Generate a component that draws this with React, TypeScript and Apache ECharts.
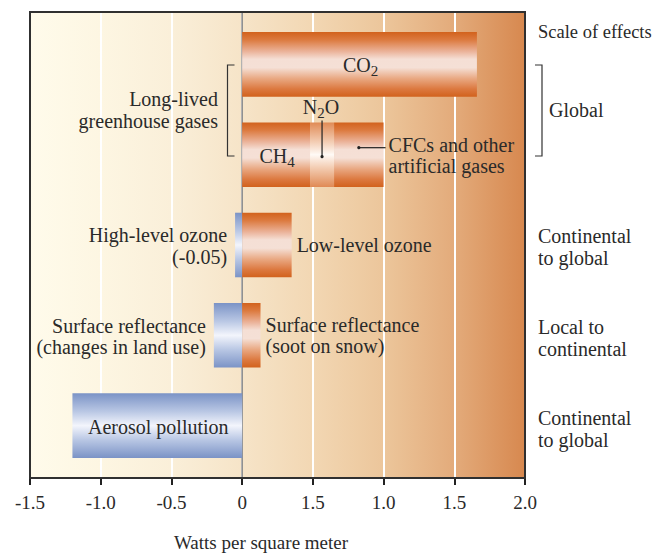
import React, { useEffect, useRef } from "react";
import * as echarts from "echarts";

// ---- data ----
const tickValues = [-1.5, -1.0, -0.5, 0, 0.5, 1.0, 1.5, 2.0];
const tickLabels = ["-1.5", "-1.0", "-0.5", "0", "1.5", "1.0", "1.5", "2.0"];

const barNames = [
  "CO2",
  "CH4",
  "N2O",
  "CFCs and other artificial gases",
  "High-level ozone",
  "Low-level ozone",
  "Surface reflectance (changes in land use)",
  "Surface reflectance (soot on snow)",
  "Aerosol pollution",
];
const barRows = [0, 1, 1, 1, 2, 2, 3, 3, 4];
const barStart = [0, 0, 0.48, 0.65, -0.05, 0, -0.2, 0, -1.2];
const barEnd = [1.66, 0.48, 0.65, 1.0, 0, 0.35, 0, 0.13, 0];
const barKind = ["warm", "warm", "pale", "warm", "cool", "warm", "cool", "warm", "cool"];
const barLabels = [
  "{n|CO}{s|2}",
  "{n|CH}{s|4}",
  "{n|N}{s|2}{n|O}",
  "CFCs and other\nartificial gases",
  "High-level ozone\n(-0.05)",
  "Low-level ozone",
  "Surface reflectance\n(changes in land use)",
  "Surface reflectance\n(soot on snow)",
  "Aerosol pollution",
];

const groupLabel = "Long-lived\ngreenhouse gases";
const scaleTitle = "Scale of effects";
const scaleLabels = ["Global", "Continental\nto global", "Local to\ncontinental", "Continental\nto global"];
const axisTitle = "Watts per square meter";

// ---- layout / style ----
const labelPlace = ["inside", "inside", "above", "pointer", "left", "right", "left", "right", "inside"];
const FONT = "'Liberation Serif', 'DejaVu Serif', serif";
const TEXT = "#2a2a2a";
const FS = 20;
const Y_MIN = -0.58;
const Y_MAX = 4.58;
const G = { left: 30, right: 134, top: 12, bottom: 76 };
const W = 659;
const H = 554;

function grad(stops: [number, string][]) {
  return new echarts.graphic.LinearGradient(
    0, 0, 0, 1,
    stops.map(([offset, color]) => ({ offset, color }))
  );
}

const fills: Record<string, any> = {
  warm: grad([
    [0, "#d2621d"], [0.12, "#dc7a3f"], [0.3, "#ebb39a"], [0.42, "#f5dfd5"],
    [0.55, "#f5e0d6"], [0.72, "#e9a882"], [0.88, "#dc7940"], [1, "#d2621d"],
  ]),
  pale: grad([
    [0, "#e08a55"], [0.3, "#f3cdb3"], [0.5, "#fffaf6"], [0.7, "#f3cdb3"], [1, "#e08a55"],
  ]),
  cool: grad([
    [0, "#7b93c6"], [0.28, "#b9c7e4"], [0.5, "#f3f5fc"], [0.72, "#b9c7e4"], [1, "#7b93c6"],
  ]),
};

const rich = {
  n: { fontSize: FS, fontFamily: FONT, color: TEXT },
  s: { fontSize: 15, fontFamily: FONT, color: TEXT, padding: [12, 0, 0, 0] },
};

function textEl(text: string, x: number, y: number, align: string, extra: any = {}) {
  return {
    type: "text",
    style: {
      text,
      x,
      y,
      align,
      verticalAlign: "middle",
      fontSize: FS,
      fontFamily: FONT,
      fill: TEXT,
      lineHeight: 21.5,
      rich,
      ...extra,
    },
    z2: 10,
  };
}

export default function App() {
  const ref = useRef<HTMLDivElement>(null);

  useEffect(() => {
    if (!ref.current) return;
    const chart = echarts.init(ref.current, null, { renderer: "svg" });

    const data = barNames.map((name, i) => ({
      name,
      value: [barRows[i], barStart[i], barEnd[i]],
    }));

    const renderItem = (params: any, api: any) => {
      const i = params.dataIndex;
      const row = api.value(0);
      const s = api.value(1);
      const e = api.value(2);
      const p0 = api.coord([s, row]);
      const p1 = api.coord([e, row]);
      const band = api.size([0, 1])[1];
      const h = band * 0.715;
      const x = Math.min(p0[0], p1[0]);
      const x2 = Math.max(p0[0], p1[0]);
      const w = x2 - x;
      const cy = p0[1];
      const y = cy - h / 2;
      const children: any[] = [
        {
          type: "rect",
          shape: { x, y, width: w, height: h },
          style: { fill: fills[barKind[i]] },
        },
      ];
      const label = barLabels[i];
      const place = labelPlace[i];
      const cx = (x + x2) / 2;
      if (place === "inside") {
        children.push(textEl(label, cx + 1, cy + 1, "center"));
      } else if (place === "left") {
        children.push(textEl(label, x - 8, cy + 1, "right"));
      } else if (place === "right") {
        children.push(textEl(label, x2 + 5, cy, "left"));
      } else if (place === "above") {
        children.push(textEl(label, cx - 1, y - 15, "center"));
        children.push({
          type: "line",
          shape: { x1: cx, y1: y - 2, x2: cx, y2: cy + 2 },
          style: { stroke: "#222", lineWidth: 1.2 },
          z2: 10,
        });
        children.push({
          type: "circle",
          shape: { cx, cy: cy + 2, r: 1.6 },
          style: { fill: "#222" },
          z2: 10,
        });
      } else if (place === "pointer") {
        children.push({
          type: "line",
          shape: { x1: cx, y1: cy - 7, x2: x2 + 2, y2: cy - 7 },
          style: { stroke: "#222", lineWidth: 1.2 },
          z2: 10,
        });
        children.push({
          type: "circle",
          shape: { cx, cy: cy - 7, r: 1.6 },
          style: { fill: "#222" },
          z2: 10,
        });
        children.push(textEl(label, x2 + 5, cy + 1, "left"));
      }
      return { type: "group", children };
    };

    const bgStops = [
      "#fffbeb", "#fdf6e2", "#faefd9", "#f6e4c8", "#f2d7b3", "#ecc69b", "#e3ab7b", "#d7884f",
    ];

    chart.setOption({
      animation: false,
      backgroundColor: "#ffffff",
      grid: {
        ...G,
        show: true,
        containLabel: false,
        outerBoundsMode: "none",
        borderWidth: 0,
        backgroundColor: new echarts.graphic.LinearGradient(
          0, 0, 1, 0,
          bgStops.map((color, k) => ({ offset: k / (bgStops.length - 1), color }))
        ),
      },
      xAxis: {
        type: "value",
        min: -1.5,
        max: 2.0,
        interval: 0.5,
        axisLine: { show: true, onZero: false, lineStyle: { color: "#222", width: 2 } },
        axisTick: { show: true, length: 7, inside: false, lineStyle: { color: "#222", width: 2 } },
        axisLabel: {
          margin: 15,
          fontSize: 19,
          fontFamily: FONT,
          color: TEXT,
          showMinLabel: true,
          showMaxLabel: true,
          formatter: (v: number) => {
            const k = tickValues.findIndex((t) => Math.abs(t - v) < 1e-6);
            return k >= 0 ? tickLabels[k] : "";
          },
        },
        splitLine: { show: true, lineStyle: { color: "#ffffff", width: 2 } },
      },
      yAxis: {
        type: "value",
        min: Y_MIN,
        max: Y_MAX,
        inverse: true,
        show: false,
        splitLine: { show: false },
        axisLine: { show: false, onZero: false },
      },
      series: [
        {
          type: "line",
          data: [[0, Y_MIN], [0, Y_MAX]],
          symbol: "none",
          silent: true,
          z: 1,
          lineStyle: { color: "#8a8a8a", width: 1.6 },
        },
        {
          type: "custom",
          renderItem,
          data,
          clip: false,
          z: 3,
          encode: { x: [1, 2], y: 0 },
        },
      ],
      graphic: [
        {
          type: "rect",
          shape: { x: G.left, y: G.top, width: W - G.left - G.right, height: H - G.top - G.bottom },
          style: { stroke: "#303030", lineWidth: 2, fill: "none" },
          z: 50,
          silent: true,
        },
        {
          type: "polyline",
          shape: { points: [[234.5, 65], [227.5, 65], [227.5, 156], [234.5, 156]] },
          style: { stroke: "#333", lineWidth: 1.2, fill: null },
        },
        {
          type: "polyline",
          shape: { points: [[535, 65], [542, 65], [542, 156], [535, 156]] },
          style: { stroke: "#333", lineWidth: 1.2, fill: null },
        },
        textEl(groupLabel, 218, 110, "right"),
        textEl(scaleTitle, 538, 32, "left", { fontSize: 18.5 }),
        textEl(scaleLabels[0], 549, 110, "left"),
        textEl(scaleLabels[1], 538, 247, "left"),
        textEl(scaleLabels[2], 538, 338, "left"),
        textEl(scaleLabels[3], 538, 429, "left"),
        textEl(axisTitle, 261, 542, "center", { fontSize: 19, lineHeight: 20 }),
      ],
    });

    return () => chart.dispose();
  }, []);

  return (
    <div
      ref={ref}
      style={{ position: "fixed", left: 0, top: 0, width: W, height: H }}
    />
  );
}
